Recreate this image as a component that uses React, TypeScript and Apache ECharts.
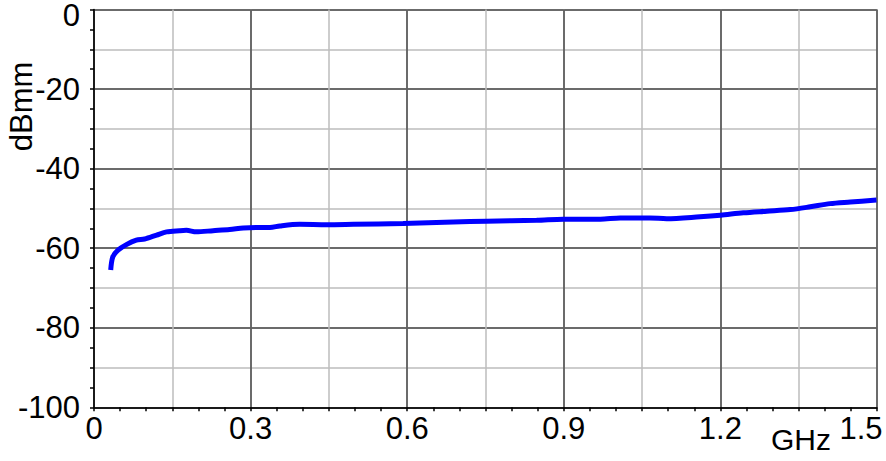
import React, { useEffect, useRef } from "react";
import * as echarts from "echarts";

const freqGHz = [
  0.032, 0.036, 0.046, 0.062, 0.081, 0.097, 0.12, 0.139, 0.164, 0.177, 0.196,
  0.228, 0.26, 0.286, 0.311, 0.337, 0.356, 0.394, 0.446, 0.497, 0.592, 0.688,
  0.752, 0.848, 0.899, 0.97, 1.008, 1.065, 1.097, 1.161, 1.2, 1.244, 1.289,
  1.334, 1.372, 1.41, 1.449, 1.499,
];
const levelDbmm = [
  -65.5, -62.2, -60.5, -59.1, -58.0, -57.7, -56.7, -55.9, -55.6, -55.5, -55.9,
  -55.6, -55.3, -54.9, -54.8, -54.8, -54.4, -54.0, -54.1, -54.0, -53.8, -53.4,
  -53.2, -53.0, -52.7, -52.7, -52.4, -52.4, -52.6, -52.1, -51.7, -51.1, -50.7,
  -50.3, -49.6, -48.8, -48.4, -47.9,
];
const yTitle = "dBmm";
const xTitle = "GHz";

const FONT = "'Liberation Sans', Arial, sans-serif";
const MAJOR = "#4a4a4a";
const MINOR = "#bcbcbc";

export default function App() {
  const ref = useRef<HTMLDivElement>(null);
  useEffect(() => {
    if (!ref.current) return;
    const chart = echarts.init(ref.current, undefined, { renderer: "svg" });
    const hidden = { show: false };
    const xBase = { type: "value", min: 0, max: 1.5, position: "bottom", offset: 0 } as any;
    const yBase = { type: "value", min: -100, max: 0, position: "left", offset: 0 } as any;
    const labelText = { fontFamily: FONT, fontSize: 31, color: "#000" };
    chart.setOption({
      animation: false,
      backgroundColor: "#ffffff",
      grid: {
        left: 94,
        right: 9,
        top: 9.5,
        bottom: 53.7,
        containLabel: false,
        outerBoundsMode: "none",
      },
      xAxis: [
        {
          ...xBase,
          interval: 0.15,
          axisLine: hidden,
          axisTick: hidden,
          axisLabel: hidden,
          splitLine: { show: true, lineStyle: { color: MINOR, width: 1.5 } },
        },
        {
          ...xBase,
          interval: 0.3,
          axisLine: hidden,
          axisTick: hidden,
          splitLine: { show: true, lineStyle: { color: MAJOR, width: 1.5 } },
          axisLabel: {
            show: true,
            ...labelText,
            margin: 6,
            formatter: (v: number) => {
              const s = v === 0 ? "0" : String(+v.toFixed(1));
              return v >= 1.5 ? `{last|${s}}` : s;
            },
            rich: { last: { ...labelText, padding: [0, 32, 0, 0] } },
          },
        },
        {
          ...xBase,
          interval: 0.05,
          axisLine: { show: true, onZero: false, lineStyle: { color: "#000", width: 1.5 } },
          axisTick: { show: true, length: 4, lineStyle: { color: "#000", width: 1.5 } },
          axisLabel: hidden,
          splitLine: hidden,
        },
      ],
      yAxis: [
        {
          ...yBase,
          interval: 10,
          axisLine: hidden,
          axisTick: hidden,
          axisLabel: hidden,
          splitLine: { show: true, lineStyle: { color: MINOR, width: 1.5 } },
        },
        {
          ...yBase,
          interval: 20,
          axisLine: hidden,
          axisTick: hidden,
          splitLine: { show: true, lineStyle: { color: MAJOR, width: 1.5 } },
          axisLabel: {
            show: true,
            ...labelText,
            margin: 14,
            formatter: (v: number) => (v === 0 ? "{top|0}" : String(v)),
            rich: { top: { ...labelText, padding: [12, 0, 0, 0] } },
          },
        },
        {
          ...yBase,
          interval: 5,
          axisLine: { show: true, onZero: false, lineStyle: { color: "#000", width: 1.5 } },
          axisTick: { show: true, length: 4, lineStyle: { color: "#000", width: 1.5 } },
          axisLabel: hidden,
          splitLine: hidden,
          name: yTitle,
          nameLocation: "middle",
          nameRotate: 90,
          nameGap: 57,
          nameTextStyle: {
            fontFamily: FONT,
            fontSize: 31,
            color: "#000",
            padding: [0, 0, 0, 204],
          },
        },
      ],
      graphic: [
        {
          type: "text",
          x: 801,
          y: 439,
          style: {
            text: xTitle,
            font: `30px ${FONT}`,
            fill: "#000",
            align: "center",
            verticalAlign: "middle",
          },
        },
      ],
      series: [
        {
          type: "line",
          xAxisIndex: 0,
          yAxisIndex: 0,
          data: freqGHz.map((f, i) => [f, levelDbmm[i]]),
          showSymbol: false,
          smooth: 0.3,
          lineStyle: { color: "#0000ff", width: 5 },
          itemStyle: { color: "#0000ff" },
          z: 5,
        },
      ],
    });
    return () => chart.dispose();
  }, []);
  return <div ref={ref} style={{ width: 886, height: 461, position: "absolute", left: 0, top: 0 }} />;
}
